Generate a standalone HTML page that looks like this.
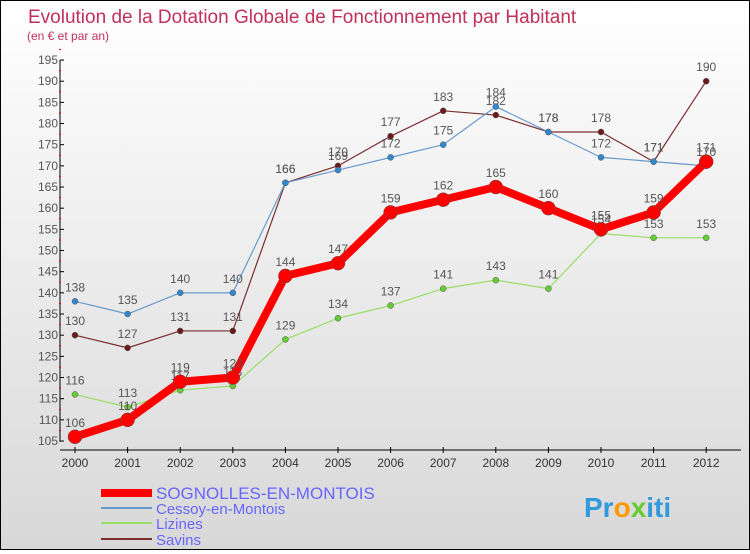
<!DOCTYPE html>
<html><head><meta charset="utf-8"><style>
body{margin:0;width:750px;height:550px;overflow:hidden}
#c{position:absolute;left:0;top:0;width:748px;height:548px;border:1px solid #000;background:linear-gradient(#ffffff,#d8d8d8)}
text{font-family:"Liberation Sans",sans-serif}
</style></head><body>
<div id="c">
<svg id="s" width="748" height="548" xmlns="http://www.w3.org/2000/svg">
<text x="27" y="22" font-size="19" fill="#c0305a">Evolution de la Dotation Globale de Fonctionnement par Habitant</text>
<text x="26" y="39" font-size="12" fill="#c0305a">(en € et par an)</text>
<g id="axes"></g><g id="series"></g><g id="legend"></g>
<text x="583" y="516" font-size="28" font-weight="bold" fill="#3399dd">Pr<tspan fill="#ff9900">o</tspan><tspan fill="#66cc33">x</tspan>iti</text>
</svg></div>
<script>
const years=[2000,2001,2002,2003,2004,2005,2006,2007,2008,2009,2010,2011,2012];
const yTicks=[105,110,115,120,125,130,135,140,145,150,155,160,165,170,175,180,185,190,195];
const sognolles=[106,110,119,120,144,147,159,162,165,160,155,159,171];
const cessoy=[138,135,140,140,166,169,172,175,184,178,172,171,170];
const lizines=[116,113,117,118,129,134,137,141,143,141,154,153,153];
const savins=[130,127,131,131,166,170,177,183,182,178,178,171,190];
const NS="http://www.w3.org/2000/svg";
const X=i=>74+i*52.6;
const Y=v=>440-(v-105)*4.233;
function mk(t,a,p){const e=document.createElementNS(NS,t);for(const k in a)e.setAttribute(k,a[k]);p.appendChild(e);return e;}
const ax=document.getElementById('axes');
let l=mk('line',{x1:59,y1:59,x2:59,y2:441,stroke:'#000'},ax);


l=mk('line',{x1:59,y1:449,x2:740,y2:449,stroke:'#000'},ax);


yTicks.forEach(v=>{mk('line',{x1:59,y1:Y(v),x2:63,y2:Y(v),stroke:'#000'},ax);
mk('line',{x1:58,y1:Y(v+2.5),x2:60,y2:Y(v+2.5),stroke:'#e00'},ax);
const t=mk('text',{x:57,y:Y(v)+4,'font-size':12,fill:'#555','text-anchor':'end'},ax);t.textContent=v;

});
years.forEach((y,i)=>{mk('line',{x1:X(i),y1:446,x2:X(i),y2:452,stroke:'#000'},ax);
const t=mk('text',{x:X(i),y:466,'font-size':12,fill:'#333','text-anchor':'middle'},ax);t.textContent=y;

});
const sg=document.getElementById('series');
const defs=[[savins,'#7a2e30','#6a1a1a',1.2,3,'savins'],[lizines,'#99dd66','#66cc33',1.2,3,'lizines'],[cessoy,'#6699cc','#3388cc',1.2,3,'cessoy-en-montois'],[sognolles,'#ff0000','#ff0000',8,7,'sognolles-en-montois']];
defs.forEach(([d,c,fc,w,r,n])=>{
const g=mk('g',{},sg);


const pl=mk('polyline',{points:d.map((v,i)=>X(i)+','+Y(v)).join(' '),fill:'none',stroke:c,'stroke-width':w,'stroke-linejoin':'round'},g);


d.forEach((v,i)=>{const p=mk('circle',{cx:X(i),cy:Y(v),r:r,fill:fc,stroke:'#555','stroke-width':0.5},g);


const t=mk('text',{x:X(i),y:Y(v)-10,'font-size':12,fill:'#555','text-anchor':'middle'},g);t.textContent=v;

});
});
const lg=document.getElementById('legend');
[['SOGNOLLES-EN-MONTOIS','#ff0000',8,492,17],['Cessoy-en-Montois','#6699cc',2,507,15],['Lizines','#99dd66',2,522,15],['Savins','#7a2e30',2,538,15]].forEach(([n,c,w,y,fs])=>{
const g=mk('g',{},lg);


mk('line',{x1:100,y1:y,x2:151,y2:y,stroke:c,'stroke-width':w},g);
const t=mk('text',{x:155,y:y+6,'font-size':fs,fill:'#6666ff'},g);t.textContent=n;});
</script></body></html>
